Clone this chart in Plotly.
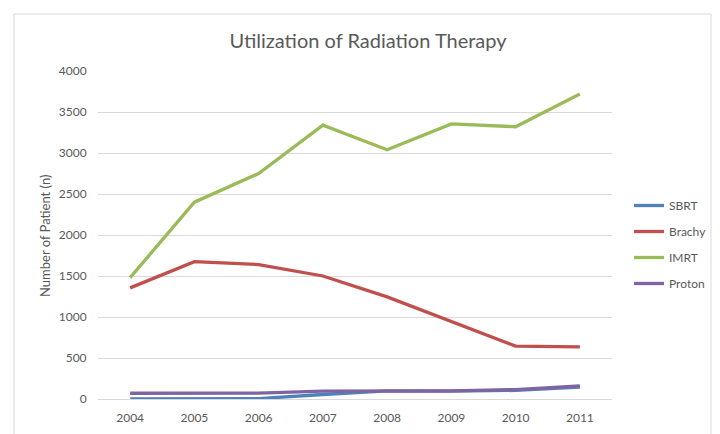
import plotly.graph_objects as go

years = ["2004", "2005", "2006", "2007", "2008", "2009", "2010", "2011"]
sbrt = [0, 0, 5, 55, 100, 95, 105, 145]
brachy = [1355, 1675, 1640, 1500, 1245, 950, 645, 635]
imrt = [1480, 2400, 2750, 3340, 3040, 3355, 3320, 3720]
proton = [70, 70, 72, 95, 95, 100, 115, 160]
y_ticks = [0, 500, 1000, 1500, 2000, 2500, 3000, 3500, 4000]

names = ["SBRT", "Brachy", "IMRT", "Proton"]
series = [sbrt, brachy, imrt, proton]
colors = ["#4F81BD", "#C0504D", "#9BBB59", "#8064A2"]

FONT = "Lato"
L, R, T, B = 90, 116, 63, 43
W, H = 720, 434
pw, ph = W - L - R, H - T - B

def px_x(p):
    return (p - L) / pw

def px_y(p):
    return (H - B - p) / ph

fig = go.Figure()
for n, s, c in zip(names, series, colors):
    fig.add_trace(go.Scatter(x=years, y=s, name=n, mode="lines", legendgroup=n,
                             line=dict(color=c, width=3.3)))

fig.update_layout(
    width=W, height=H,
    margin=dict(l=L, r=R, t=T, b=B),
    paper_bgcolor="white", plot_bgcolor="white",
    font=dict(family=FONT, size=12, color="#595959"),
    title=dict(text="Utilization of Radiation Therapy", x=0.5, xanchor="center",
               y=1 - 33 / H, yanchor="middle",
               font=dict(family=FONT, size=20, color="#595959")),
    showlegend=True,
    legend=dict(x=px_x(621), xanchor="left", y=px_y(236.5), yanchor="middle",
                font=dict(family=FONT, size=12, color="#595959"),
                tracegroupgap=7, bgcolor="rgba(0,0,0,0)"),
    xaxis=dict(type="category", range=[-0.5, 7.5], showgrid=False,
               showline=True, linecolor="#D9D9D9", linewidth=1,
               ticks="outside", ticklen=8, tickcolor="rgba(0,0,0,0)",
               tickfont=dict(family=FONT, size=12, color="#595959"), fixedrange=True),
    yaxis=dict(range=[0, 4000], tickvals=y_ticks, showgrid=True,
               gridcolor="#D9D9D9", gridwidth=1, zeroline=False, showline=False,
               ticks="outside", ticklen=8, tickcolor="rgba(0,0,0,0)",
               tickfont=dict(family=FONT, size=12, color="#595959")),
    annotations=[dict(text="Number of Patient (n)", xref="paper", yref="paper",
                      x=px_x(37), y=px_y(228), textangle=-90, showarrow=False,
                      xanchor="center", yanchor="middle",
                      font=dict(family=FONT, size=13, color="#595959"))],
    shapes=[dict(type="rect", xref="paper", yref="paper",
                 x0=px_x(6), x1=px_x(703), y0=px_y(428), y1=px_y(6),
                 line=dict(color="#D9D9D9", width=1), layer="below")],
)

fig.write_html("out.html")
